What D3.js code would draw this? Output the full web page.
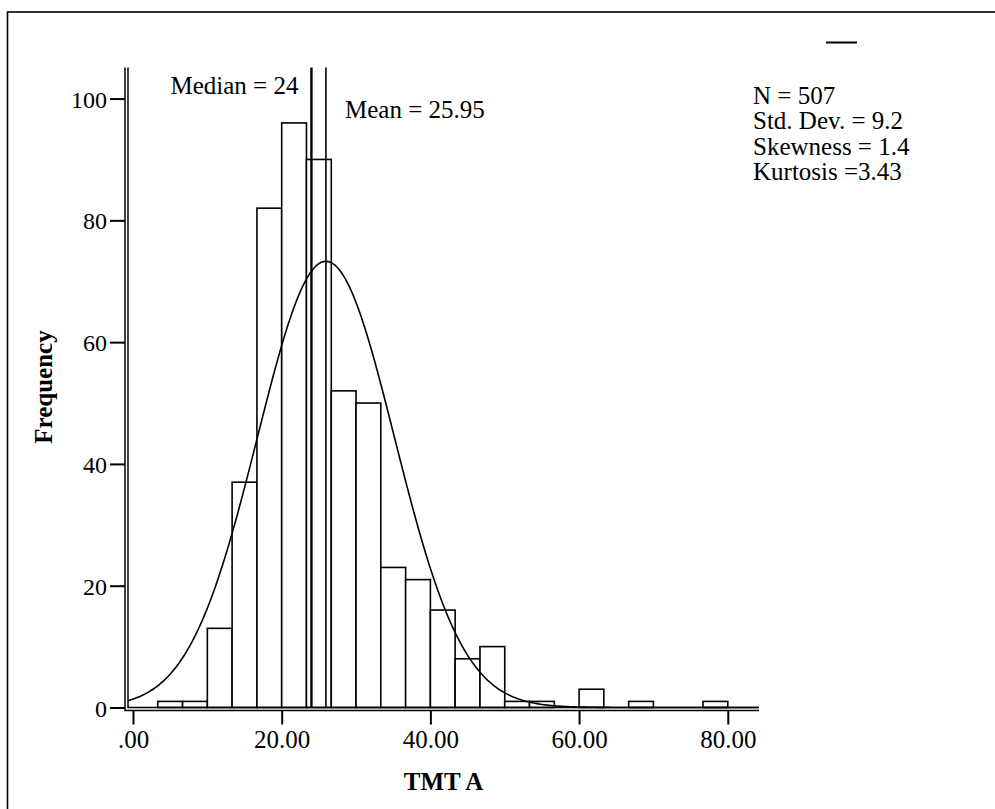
<!DOCTYPE html>
<html>
<head>
<meta charset="utf-8">
<script src="https://cdn.jsdelivr.net/npm/d3@7"></script>
<style>
  html, body { margin: 0; padding: 0; background: #fff; }
  svg text { font-family: "Liberation Serif", "Times New Roman", serif; fill: #000; }
</style>
</head>
<body>
<svg id="chart" width="995" height="809"></svg>
<script>
// histogram bins of TMT A (lower/upper edges) and their counts
var binEdges = [0, 3.33, 6.67, 10, 13.33, 16.67, 20, 23.33, 26.67, 30, 33.33, 36.67,
  40, 43.33, 46.67, 50, 53.33, 56.67, 60, 63.33, 66.67, 70, 73.33, 76.67, 80];
var counts = [0, 1, 1, 13, 37, 82, 96, 90, 52, 50, 23, 21,
  16, 8, 10, 1, 1, 0, 3, 0, 1, 0, 0, 1];

var xTicks = [0, 20, 40, 60, 80];
var xTickLabels = [".00", "20.00", "40.00", "60.00", "80.00"];
var yTicks = [0, 20, 40, 60, 80, 100];

var stats = { n: 507, mean: 25.95, median: 24, sd: 9.2 };
var statLines = ["N = 507", "Std. Dev. = 9.2", "Skewness = 1.4", "Kurtosis =3.43"];

function drawChart() {
  var svg = d3.select("#chart");

  // outer frame (right and bottom fall outside the picture)
  svg.append("rect")
    .attr("x", 7.5).attr("y", 12)
    .attr("width", 1010).attr("height", 820)
    .attr("fill", "none").attr("stroke", "#000").attr("stroke-width", 1.6);

  var xScale = d3.scaleLinear().domain([-0.673, 84.2]).range([128, 759]);
  var yScale = d3.scaleLinear().domain([0, 105.1]).range([707.5, 67.5]);

  var bins = counts.map(function(c, i) {
    return { x0: binEdges[i], x1: binEdges[i + 1], count: c };
  });

  // bars
  svg.append("g").selectAll("rect")
    .data(bins)
    .enter()
    .append("rect")
    .attr("x", function(d) { return xScale(d.x0); })
    .attr("width", function(d) { return xScale(d.x1) - xScale(d.x0); })
    .attr("y", function(d) { return yScale(d.count); })
    .attr("height", function(d) { return yScale(0) - yScale(d.count); })
    .attr("fill", "#fff")
    .attr("stroke", "#000")
    .attr("stroke-width", 1.6);

  // normal curve, scaled to counts per bin
  var binW = 10 / 3;
  var peak = stats.n * binW / (stats.sd * Math.sqrt(2 * Math.PI));
  var curveX = d3.range(-0.673, 84.2, 0.25);
  var line = d3.line()
    .x(function(v) { return xScale(v); })
    .y(function(v) {
      var z = (v - stats.mean) / stats.sd;
      return yScale(peak * Math.exp(-z * z / 2));
    })
    .curve(d3.curveBasis);
  svg.append("path")
    .datum(curveX)
    .attr("d", line)
    .attr("fill", "none")
    .attr("stroke", "#000")
    .attr("stroke-width", 1.6);

  // median / mean lines
  svg.append("line")
    .attr("x1", xScale(stats.median)).attr("x2", xScale(stats.median))
    .attr("y1", yScale(105.1)).attr("y2", yScale(0))
    .attr("stroke", "#000").attr("stroke-width", 2.4);
  svg.append("line")
    .attr("x1", xScale(stats.mean)).attr("x2", xScale(stats.mean))
    .attr("y1", yScale(105.1)).attr("y2", yScale(0))
    .attr("stroke", "#000").attr("stroke-width", 1.6);

  svg.append("text")
    .attr("x", 170.5).attr("y", 94)
    .style("font-size", "25px")
    .text("Median = " + stats.median);
  svg.append("text")
    .attr("x", 345).attr("y", 118)
    .style("font-size", "25px")
    .text("Mean = " + stats.mean);

  setAxis(svg, xScale, yScale);

  // stats box
  svg.append("g").selectAll("text")
    .data(statLines)
    .enter()
    .append("text")
    .attr("x", 753)
    .attr("y", function(d, i) { return 104 + i * 25.3; })
    .style("font-size", "25px")
    .text(function(d) { return d; });

  // short legend dash top right
  svg.append("line")
    .attr("x1", 826).attr("x2", 857)
    .attr("y1", 42.5).attr("y2", 42.5)
    .attr("stroke", "#000").attr("stroke-width", 2);
}

function setAxis(svg, xScale, yScale) {
  var left = xScale.range()[0], right = xScale.range()[1];
  var base = yScale(0), top = yScale.range()[1];

  // double axis lines
  svg.append("path")
    .attr("d", "M" + left + "," + top + "V" + base + "H" + right)
    .attr("fill", "none").attr("stroke", "#000").attr("stroke-width", 1.5);
  svg.append("path")
    .attr("d", "M" + (left - 3) + "," + top + "V" + (base + 3) + "H" + right)
    .attr("fill", "none").attr("stroke", "#000").attr("stroke-width", 1.5);

  var yAxis = d3.axisLeft(yScale)
    .tickValues(yTicks)
    .tickSize(15)
    .tickPadding(3)
    .tickFormat(d3.format("d"));
  var gy = svg.append("g")
    .attr("transform", "translate(" + (left - 3) + ",0)")
    .call(yAxis);
  gy.select(".domain").remove();
  gy.selectAll("line").attr("stroke-width", 2);
  gy.selectAll("text")
    .style("font-size", "24px")
    .style("font-family", "Liberation Serif")
    .attr("dy", "0.36em");

  var xAxis = d3.axisBottom(xScale)
    .tickValues(xTicks)
    .tickSize(14)
    .tickPadding(6)
    .tickFormat(function(d, i) { return xTickLabels[i]; });
  var gx = svg.append("g")
    .attr("transform", "translate(0," + (base + 3) + ")")
    .call(xAxis);
  gx.select(".domain").remove();
  gx.selectAll("line").attr("stroke-width", 2);
  gx.selectAll("text")
    .style("font-size", "25px")
    .style("font-family", "Liberation Serif");

  svg.append("text")
    .attr("x", (left + right) / 2).attr("y", 790)
    .attr("text-anchor", "middle")
    .style("font-size", "25px").style("font-weight", "bold")
    .text("TMT A");

  svg.append("text")
    .attr("transform", "translate(51.5,387) rotate(-90)")
    .attr("text-anchor", "middle")
    .style("font-size", "25px").style("font-weight", "bold")
    .text("Frequency");
}

drawChart();
</script>
</body>
</html>
